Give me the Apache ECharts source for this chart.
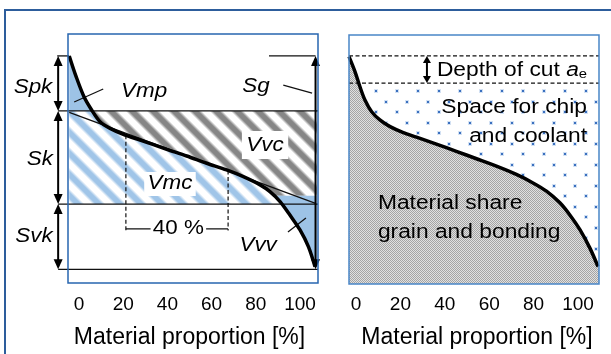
<!DOCTYPE html>
<html>
<head>
<meta charset="utf-8">
<title>Material ratio curve and wheel topography</title>
<script src="https://cdn.jsdelivr.net/npm/echarts@6.0.0/dist/echarts.min.js"></script>
<style>
  html, body { margin: 0; padding: 0; background: #fff; }
  #chart { width: 611px; height: 354px; }
</style>
</head>
<body>
<div id="chart"></div>
<script>
// left: material ratio (Abbott) curve, height 0..100 from box bottom to box top
var leftX = [0, 2.8, 6.0, 9.1, 12.5, 16.6, 22.7, 28.8, 39.6, 47.7, 55.8, 63.9, 70.7, 77.5, 81.5, 85.6, 89.6, 93.7, 97.1, 99.8];
var leftV = [91.2, 82.9, 74.8, 69.5, 64.8, 62.1, 59.4, 57.4, 53.7, 51.0, 48.1, 45.4, 42.7, 39.4, 36.7, 32.7, 27.3, 21.3, 14.6, 6.5];
// equivalent straight line of the core zone
var equivX = [0, 100];
var equivV = [68.5, 32];
// levels
var spkTop = 91.2, skTop = 69.1, skBottom = 31.7, vvvTop = 35, svkBottom = 5.5;
var measureFrom = 23, measureTo = 64.5, measureAt = 21.7;

// right: grinding wheel topography
var rightX = [0, 2.4, 4.4, 6.4, 9.1, 12.4, 16.5, 21.8, 27.1, 35.1, 43.1, 51.2, 59.2, 67.2, 73.9, 79.3, 84.7, 88.7, 92.8, 96.8, 100];
var rightV = [91.3, 85.3, 79.2, 73.9, 69.2, 65.9, 63.2, 60.8, 59.0, 56.2, 53.3, 50.3, 47.3, 44.0, 40.6, 37.3, 32.6, 27.7, 21.7, 14.3, 7.0];
var cutTop = 91.6, cutBottom = 80.7;

var tickLabels = ['0', '20', '40', '60', '80', '100'];
var axisTitle = 'Material proportion [%]';

var FONT = 'Liberation Sans, Arial, sans-serif';

function pairs(xs, vs) {
  return xs.map(function (x, i) { return [x, vs[i]]; });
}

function curveAt(xs, vs, x) {
  for (var i = 0; i < xs.length - 1; i++) {
    if (x >= xs[i] && x <= xs[i + 1]) {
      return vs[i] + (x - xs[i]) / (xs[i + 1] - xs[i]) * (vs[i + 1] - vs[i]);
    }
  }
  return vs[vs.length - 1];
}

// piece of a falling curve between two heights, ends interpolated
function curvePart(xs, vs, hi, lo) {
  var out = [];
  function cut(i, h) {
    var t = (h - vs[i]) / (vs[i + 1] - vs[i]);
    out.push([xs[i] + t * (xs[i + 1] - xs[i]), h]);
  }
  for (var i = 0; i < xs.length; i++) {
    if (vs[i] <= hi && vs[i] >= lo) out.push([xs[i], vs[i]]);
    if (i === xs.length - 1) break;
    if (vs[i] > hi && vs[i + 1] < hi) cut(i, hi);
    if (vs[i] > lo && vs[i + 1] < lo) cut(i, lo);
  }
  return out;
}

// fill patterns
function stripes(rgb) {
  var n = 21, c = document.createElement('canvas');
  c.width = c.height = n;
  var ctx = c.getContext('2d'), img = ctx.createImageData(n, n);
  for (var y = 0; y < n; y++) {
    for (var x = 0; x < n; x++) {
      var d = (((x - y) % n) + n) % n / n;
      var a = Math.max(0, Math.min(1, 0.4 + 0.9 * Math.cos(2 * Math.PI * d)));
      var k = (y * n + x) * 4;
      img.data[k] = 255 + (rgb[0] - 255) * a;
      img.data[k + 1] = 255 + (rgb[1] - 255) * a;
      img.data[k + 2] = 255 + (rgb[2] - 255) * a;
      img.data[k + 3] = 255;
    }
  }
  ctx.putImageData(img, 0, 0);
  return { image: c, repeat: 'repeat' };
}

function checker() {
  var c = document.createElement('canvas');
  c.width = c.height = 2;
  var ctx = c.getContext('2d');
  ctx.fillStyle = '#e0e0e0';
  ctx.fillRect(0, 0, 2, 2);
  ctx.fillStyle = '#a4a4a4';
  ctx.fillRect(0, 0, 1, 1);
  ctx.fillRect(1, 1, 1, 1);
  return { image: c, repeat: 'repeat' };
}

function dots() {
  var c = document.createElement('canvas');
  c.width = c.height = 21;
  var ctx = c.getContext('2d');
  ctx.fillStyle = '#ffffff';
  ctx.fillRect(0, 0, 21, 21);
  ctx.fillStyle = '#d3e1f3';
  ctx.fillRect(17, 5, 4, 4);
  ctx.fillRect(6, 16, 4, 4);
  ctx.fillStyle = '#3a70bf';
  ctx.fillRect(18, 6, 2, 2);
  ctx.fillRect(7, 17, 2, 2);
  return { image: c, repeat: 'repeat' };
}

var lightBlue = '#9dc3e6';
var grayStripes = stripes([134, 134, 134]);
var blueStripes = stripes([160, 197, 232]);

var lastL = leftV.length - 1, lastR = rightV.length - 1;
var vmpPoly = curvePart(leftX, leftV, Infinity, skTop).concat([[0, skTop]]);
var vmcPoly = [[0, skTop]].concat(curvePart(leftX, leftV, skTop, skBottom), [[0, skBottom]]);
var vvcPoly = curvePart(leftX, leftV, skTop, vvvTop).concat([[100.5, vvvTop], [100.5, skTop]]);
var vvvPoly = curvePart(leftX, leftV, vvvTop, -Infinity).concat([[100.5, leftV[lastL]], [100.5, vvvTop]]);
var grainPoly = pairs(rightX, rightV).concat([[100.4, rightV[lastR]], [100.4, 0], [0, 0]]);
var porePoly = curvePart(rightX, rightV, cutBottom, -Infinity).concat([[100.4, rightV[lastR]], [100.4, cutBottom]]);

function areaSeries(grid, poly, fill) {
  return {
    type: 'custom', xAxisIndex: grid, yAxisIndex: grid, silent: true, z: 1, data: [[0, 0]],
    renderItem: function (params, api) {
      return {
        type: 'polygon',
        shape: { points: poly.map(function (p) { return api.coord(p); }) },
        style: { fill: fill }
      };
    }
  };
}

function linesSeries(grid, segs, style, z) {
  return {
    type: 'custom', xAxisIndex: grid, yAxisIndex: grid, silent: true, clip: false, z: z, data: [[0, 0]],
    renderItem: function (params, api) {
      return {
        type: 'group',
        children: segs.map(function (s) {
          var a = api.coord(s[0]), b = api.coord(s[1]);
          return { type: 'line', shape: { x1: a[0], y1: a[1], x2: b[0], y2: b[1] }, style: Object.assign({}, style) };
        })
      };
    }
  };
}

function arrowsSeries(grid, arrows, w, len, lw) {
  return {
    type: 'custom', xAxisIndex: grid, yAxisIndex: grid, silent: true, clip: false, z: 5, data: [[0, 0]],
    renderItem: function (params, api) {
      var kids = [];
      arrows.forEach(function (ar) {
        var a = api.coord([ar[0], ar[1]]), b = api.coord([ar[0], ar[2]]);
        kids.push({ type: 'line', shape: { x1: a[0], y1: a[1] + 3, x2: b[0], y2: b[1] - 3 }, style: { stroke: '#000', lineWidth: lw } });
        kids.push({ type: 'polygon', shape: { points: [[a[0], a[1]], [a[0] - w, a[1] + len], [a[0] + w, a[1] + len]] }, style: { fill: '#000' } });
        kids.push({ type: 'polygon', shape: { points: [[b[0], b[1]], [b[0] - w, b[1] - len], [b[0] + w, b[1] - len]] }, style: { fill: '#000' } });
      });
      return { type: 'group', children: kids };
    }
  };
}

function notesSeries(grid, notes, stretch) {
  return {
    type: 'custom', xAxisIndex: grid, yAxisIndex: grid, silent: true, clip: false, z: 6, data: [[0, 0]],
    renderItem: function (params, api) {
      return {
        type: 'group',
        children: notes.map(function (n) {
          var p = api.coord([n.x, n.v]);
          return {
            type: 'text', x: p[0], y: p[1], scaleX: stretch,
            style: Object.assign({
              text: n.text, fill: '#000', fontFamily: FONT, fontSize: 20,
              fontStyle: n.italic ? 'italic' : 'normal',
              align: n.align || 'center', verticalAlign: 'middle'
            }, n.bg ? { backgroundColor: '#fff', padding: n.bg } : {}, n.rich ? { rich: n.rich } : {})
          };
        })
      };
    }
  };
}

var thin = { stroke: '#111', lineWidth: 1.3 };
var dashed = { stroke: '#111', lineWidth: 1.2, lineDash: [4, 2.5] };

var levelLines = [
  [[-4.9, spkTop], [0, spkTop]],
  [[81.1, spkTop], [100, spkTop]],
  [[-4.5, skTop], [101, skTop]],
  [[-4.5, skBottom], [101, skBottom]],
  [[-4.5, svkBottom], [101, svkBottom]],
  [[measureFrom, measureAt], [measureTo, measureAt]],
  [[2.0, 72.7], [13.8, 77.9]],
  [[86.9, 79.5], [98.6, 76.3]],
  [[88.8, 20.5], [96.1, 26.1]]
];
var measureLines = [
  [[measureFrom, curveAt(leftX, leftV, measureFrom)], [measureFrom, measureAt - 0.6]],
  [[measureTo, curveAt(leftX, leftV, measureTo)], [measureTo, measureAt - 0.6]]
];
var cutLines = [
  [[0, cutTop], [100.4, cutTop]],
  [[0, cutBottom], [100.4, cutBottom]]
];

var leftNotes = [
  { x: -14.7, v: 78.7, text: 'Spk', italic: true },
  { x: -11.9, v: 49.8, text: 'Sk', italic: true },
  { x: -14.3, v: 18.5, text: 'Svk', italic: true },
  { x: 30.4, v: 77.1, text: 'Vmp', italic: true },
  { x: 75.8, v: 79.1, text: 'Sg', italic: true },
  { x: 79.5, v: 55.4, text: 'Vvc', italic: true, bg: [4, 4] },
  { x: 40.9, v: 39.8, text: 'Vmc', italic: true, bg: [2, 3] },
  { x: 44.3, v: 21.7, text: '40 %', bg: [0, 2] },
  { x: 76.7, v: 14.9, text: 'Vvv', italic: true }
];
var rightNotes = [
  {
    x: 35.3, v: 85.8, align: 'left', text: '{n|Depth of cut }{a|a}{s|e}',
    rich: {
      n: { fontSize: 20, fontFamily: FONT, fill: '#000', lineHeight: 22 },
      a: { fontSize: 20, fontFamily: FONT, fill: '#000', fontStyle: 'italic', lineHeight: 22 },
      s: { fontSize: 13, fontFamily: FONT, fill: '#000', lineHeight: 13, verticalAlign: 'bottom' }
    }
  },
  { x: 95.6, v: 70.7, align: 'right', text: 'Space for chip' },
  { x: 95.6, v: 59.4, align: 'right', text: 'and coolant' },
  { x: 11.6, v: 32.2, align: 'left', text: 'Material share' },
  { x: 11.6, v: 20.5, align: 'left', text: 'grain and bonding' }
];

function tickAxis(grid, pad) {
  return {
    gridIndex: grid, type: 'category', data: tickLabels, boundaryGap: false,
    axisLine: { show: false }, axisTick: { show: false }, splitLine: { show: false },
    axisLabel: { color: '#000', fontSize: 19, fontFamily: FONT, margin: 14, interval: 0 },
    name: axisTitle, nameLocation: 'middle', nameGap: 45,
    nameTextStyle: { color: '#000', fontSize: 23, fontFamily: FONT, padding: pad }
  };
}

var chart = echarts.init(document.getElementById('chart'), null, { renderer: 'canvas' });
chart.setOption({
  animation: false,
  backgroundColor: '#fff',
  grid: [
    { left: 68, top: 34, width: 250, height: 249 },
    { left: 349, top: 35, width: 250, height: 249 },
    { left: 79, top: 34, width: 221, height: 249 },
    { left: 356, top: 35, width: 222, height: 249 }
  ],
  xAxis: [
    { gridIndex: 0, type: 'value', min: -0.5, max: 101, show: false },
    { gridIndex: 1, type: 'value', min: 0, max: 100.4, show: false },
    tickAxis(2, [0, 0, 0, 0]),
    tickAxis(3, [0, 0, 0, 20])
  ],
  yAxis: [
    { gridIndex: 0, type: 'value', min: 0, max: 100, show: false },
    { gridIndex: 1, type: 'value', min: 0, max: 100, show: false },
    { gridIndex: 2, type: 'value', min: 0, max: 100, show: false },
    { gridIndex: 3, type: 'value', min: 0, max: 100, show: false }
  ],
  graphic: [
    { type: 'rect', z: 0, shape: { x: 5, y: 10, width: 700, height: 400 }, style: { fill: null, stroke: '#2d5d9c', lineWidth: 2 } },
    { type: 'rect', z: 50, shape: { x: 68, y: 34, width: 250, height: 249 }, style: { fill: null, stroke: '#2766b0', lineWidth: 1.5 } },
    { type: 'rect', z: 50, shape: { x: 349, y: 35, width: 250, height: 249 }, style: { fill: null, stroke: '#4a86c8', lineWidth: 1.5 } }
  ],
  series: [
    areaSeries(0, vmpPoly, lightBlue),
    areaSeries(0, vmcPoly, blueStripes),
    areaSeries(0, vvcPoly, grayStripes),
    areaSeries(0, vvvPoly, lightBlue),
    areaSeries(1, grainPoly, checker()),
    areaSeries(1, porePoly, dots()),
    {
      type: 'line', xAxisIndex: 0, yAxisIndex: 0, silent: true, z: 3,
      data: pairs(equivX, equivV), symbol: 'none',
      lineStyle: { color: '#111', width: 1.3 }
    },
    linesSeries(0, levelLines, thin, 3),
    linesSeries(0, measureLines, dashed, 3),
    linesSeries(1, cutLines, dashed, 3),
    {
      type: 'line', xAxisIndex: 0, yAxisIndex: 0, silent: true, z: 4,
      data: pairs(leftX, leftV), symbol: 'none', smooth: 0.3,
      lineStyle: { color: '#000', width: 3.5 }
    },
    {
      type: 'line', xAxisIndex: 1, yAxisIndex: 1, silent: true, z: 4,
      data: pairs(rightX, rightV), symbol: 'none', smooth: 0.3,
      lineStyle: { color: '#000', width: 3.5 }
    },
    arrowsSeries(0, [[-4.5, spkTop, skTop], [-4.5, skTop, skBottom], [-4.5, skBottom, svkBottom], [100, spkTop, svkBottom]], 4.5, 10, 2),
    arrowsSeries(1, [[31.3, cutTop, cutBottom]], 4, 7, 2),
    notesSeries(0, leftNotes, 1.12),
    notesSeries(1, rightNotes, 1.14)
  ]
});
</script>
</body>
</html>
